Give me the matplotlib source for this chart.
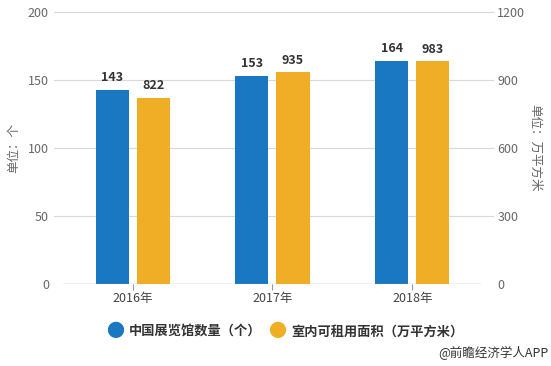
import numpy as np
import matplotlib.pyplot as plt

plt.rcParams['font.family'] = ['Noto Sans CJK SC', 'DejaVu Sans']

years = ['2016年', '2017年', '2018年']
halls = [143, 153, 164]
area = [822, 935, 983]
left_ticks = [0, 50, 100, 150, 200]
right_ticks = [0, 300, 600, 900, 1200]

blue = '#1a78c2'
orange = '#f0ae26'
grid_c = '#d9d9d9'
tick_c = '#666666'

fig = plt.figure(figsize=(5.51, 3.66), dpi=100)
ax = fig.add_axes([0.114, 0.224, 0.761, 0.743])
ax2 = ax.twinx()

x = np.arange(len(years))
w = 0.237
off = 0.147

ax.set_xlim(-0.5, 2.5)
ax.set_ylim(0, 200)
ax2.set_ylim(0, 1200)

# gridlines stick out a little past the plot area
for v in left_ticks[1:]:
    ax.axhline(v, xmin=-0.02, xmax=1.025, color=grid_c, lw=0.8, clip_on=False, zorder=0)
ax.axhline(0, color='#999999', lw=0.9, zorder=3)

b1 = ax.bar(x - off, halls, w, color=blue, zorder=2)
b2 = ax2.bar(x + off, area, w, color=orange, zorder=2)

for xi, v in zip(x, halls):
    ax.annotate(str(v), (xi - off, v), xytext=(0, 4), textcoords='offset points',
                ha='center', va='bottom', fontsize=9, fontweight='bold', color='#333333')
for xi, v in zip(x, area):
    ax2.annotate(str(v), (xi + off, v), xytext=(0, 4), textcoords='offset points',
                 ha='center', va='bottom', fontsize=9, fontweight='bold', color='#333333')

ax.set_xticks(x)
ax.set_xticklabels(years, fontsize=9, color='#444444')
ax.tick_params(axis='x', length=4, color='#999999', pad=2)
ax.set_yticks(left_ticks)
ax.tick_params(axis='y', length=0, labelsize=9, labelcolor=tick_c, pad=10)
ax2.set_yticks(right_ticks)
ax2.tick_params(axis='y', length=0, labelsize=9, labelcolor=tick_c, pad=11)

for a in (ax, ax2):
    for s in a.spines.values():
        s.set_visible(False)

ax.set_ylabel('单位：个', fontsize=9, color=tick_c, va='center')
ax.yaxis.set_label_coords(-0.117, 0.5)
ax2.set_ylabel('单位：万平方米', fontsize=9, color=tick_c, rotation=270, va='center')
ax2.yaxis.set_label_coords(1.125, 0.5)

# legend
fig.text(0.209, 0.093, '●', color=blue, fontsize=13, ha='center', va='center')
fig.text(0.234, 0.093, '中国展览馆数量（个）', fontsize=9.5, color='#333333', ha='left', va='center', fontweight='bold')
fig.text(0.503, 0.093, '●', color=orange, fontsize=13, ha='center', va='center')
fig.text(0.528, 0.093, '室内可租用面积（万平方米）', fontsize=9.5, color='#333333', ha='left', va='center', fontweight='bold')

fig.text(0.995, 0.035, '@前瞻经济学人APP', fontsize=9, color='#333333', ha='right', va='center')

fig.savefig('out.png', dpi=100)
